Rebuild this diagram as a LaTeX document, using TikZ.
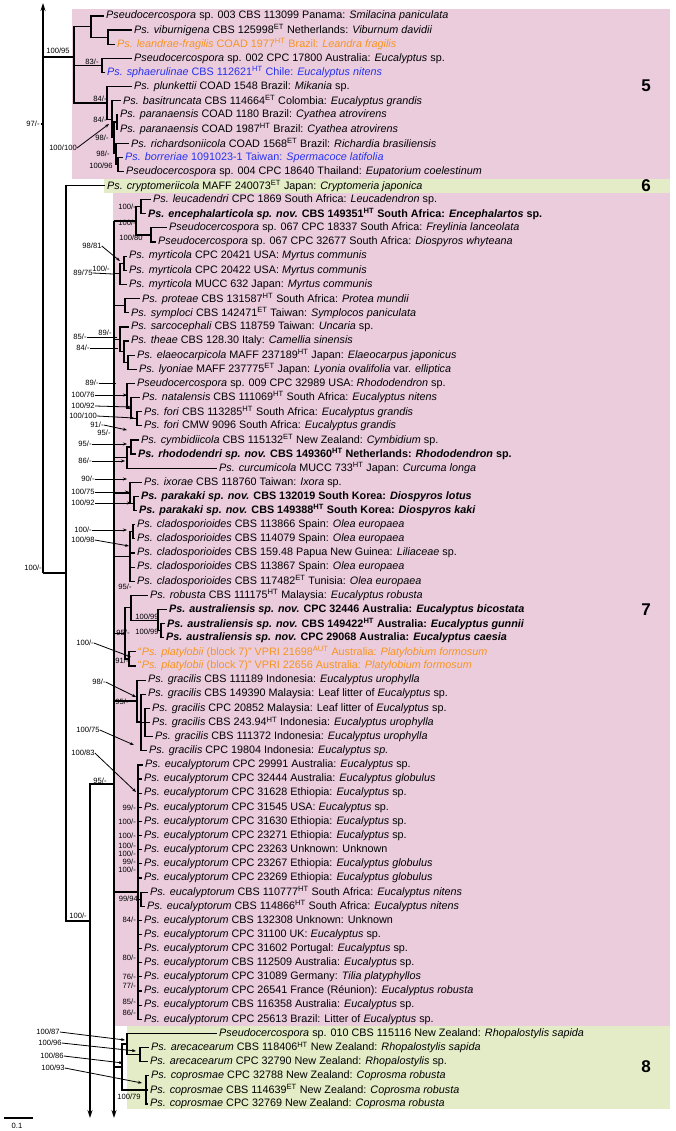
\documentclass[tikz,border=0pt]{standalone}
\usepackage{fontspec}
\setmainfont{Liberation Sans}
\usetikzlibrary{arrows.meta}
\definecolor{pinkbox}{RGB}{234,204,221}
\definecolor{greenbox}{RGB}{227,236,199}
\definecolor{orangetxt}{RGB}{247,148,30}
\definecolor{bluetxt}{RGB}{40,50,240}
\newcommand{\sHT}{\textsuperscript{HT}}
\newcommand{\sET}{\textsuperscript{ET}}
\newcommand{\sAUT}{\textsuperscript{AUT}}
\newcommand{\tipfont}{\fontsize{10.8}{12}\selectfont}
\newcommand{\supfont}{\fontsize{7.6}{8}\selectfont}
\newcommand{\Euc}{\textit{Ps. eucalyptorum}}
\newcommand{\Clad}{\textit{Ps. cladosporioides}}
\newcommand{\Grac}{\textit{Ps. gracilis}}

\begin{document}
\begin{tikzpicture}[x=1pt, y=-1pt,
    tip/.style={anchor=west, inner xsep=2.5pt, inner ysep=0pt, font=\tipfont},
    nov/.style={tip, font=\tipfont\bfseries},
    sv/.style={inner sep=0pt, font=\supfont},
    br/.style={line width=1.2pt},
    bb/.style={line width=2.6pt},
    ptr/.style={line width=0.8pt},
    arr/.style={ptr, -{Stealth[length=4pt,width=3pt]}},
    cladenum/.style={font=\fontsize{17}{17}\selectfont\bfseries}
]
    \useasboundingbox (0,0) rectangle (676,1131);
    \fill[white] (0,0) rectangle (676,1131);

    % clade boxes
    \fill[pinkbox] (72,9) rectangle (670,179);
    \fill[greenbox] (104,179) rectangle (670,193);
    \fill[pinkbox] (113,193) rectangle (670,1026);
    \fill[greenbox] (127,1026) rectangle (670,1109);
    \node[cladenum] (c5) at (646,86) {5};
    \node[cladenum] (c6) at (646,186) {6};
    \node[cladenum] (c7) at (646,610) {7};
    \node[cladenum] (c8) at (646,1067) {8};

    % tips, clade 5
    \node[tip] (t1) at (103.5,16.0) {\textit{Pseudocercospora} sp. 003 CBS 113099 Panama: \textit{Smilacina paniculata}};
    \node[tip] (t2) at (131.5,30.1) {\textit{Ps. viburnigena} CBS 125998\sET{} Netherlands: \textit{Viburnum davidii}};
    \node[tip, text=orangetxt] (t3) at (114.5,44.3) {\textit{Ps. leandrae-fragilis} COAD 1977\sHT{} Brazil: \textit{Leandra fragilis}};
    \node[tip] (t4) at (131.5,58.4) {\textit{Pseudocercospora} sp. 002 CPC 17800 Australia: \textit{Eucalyptus} sp.};
    \node[tip, text=bluetxt] (t5) at (104.5,72.5) {\textit{Ps. sphaerulinae} CBS 112621\sHT{} Chile: \textit{Eucalyptus nitens}};
    \node[tip] (t6) at (131.5,86.7) {\textit{Ps. plunkettii} COAD 1548 Brazil: \textit{Mikania} sp.};
    \node[tip] (t7) at (120.5,100.8) {\textit{Ps. basitruncata} CBS 114664\sET{} Colombia: \textit{Eucalyptus grandis}};
    \node[tip] (t8) at (117.5,114.9) {\textit{Ps. paranaensis} COAD 1180 Brazil: \textit{Cyathea atrovirens}};
    \node[tip] (t9) at (117.5,129.0) {\textit{Ps. paranaensis} COAD 1987\sHT{} Brazil: \textit{Cyathea atrovirens}};
    \node[tip] (t10) at (128.5,143.2) {\textit{Ps. richardsoniicola} COAD 1568\sET{} Brazil: \textit{Richardia brasiliensis}};
    \node[tip, text=bluetxt] (t11) at (122.5,157.3) {\textit{Ps. borreriae} 1091023-1 Taiwan: \textit{Spermacoce latifolia}};
    \node[tip] (t12) at (123.5,171.4) {\textit{Pseudocercospora} sp. 004 CPC 18640 Thailand: \textit{Eupatorium coelestinum}};
    % clade 6
    \node[tip] (t13) at (104.5,185.6) {\textit{Ps. cryptomeriicola} MAFF 240073\sET{} Japan: \textit{Cryptomeria japonica}};
    % clade 7
    \node[tip] (t14) at (150.5,199.7) {\textit{Ps. leucadendri} CPC 1869 South Africa: \textit{Leucadendron} sp.};
    \node[nov] (t15) at (145.5,213.8) {\textit{Ps. encephalarticola sp. nov.} CBS 149351\sHT{} South Africa: \textit{Encephalartos} sp.};
    \node[tip] (t16) at (166.5,227.9) {\textit{Pseudocercospora} sp. 067 CPC 18337 South Africa: \textit{Freylinia lanceolata}};
    \node[tip] (t17) at (155.5,242.1) {\textit{Pseudocercospora} sp. 067 CPC 32677 South Africa: \textit{Diospyros whyteana}};
    \node[tip] (t18) at (126.5,256.2) {\textit{Ps. myrticola} CPC 20421 USA: \textit{Myrtus communis}};
    \node[tip] (t19) at (126.5,270.3) {\textit{Ps. myrticola} CPC 20422 USA: \textit{Myrtus communis}};
    \node[tip] (t20) at (126.5,284.5) {\textit{Ps. myrticola} MUCC 632 Japan: \textit{Myrtus communis}};
    \node[tip] (t21) at (139.5,298.6) {\textit{Ps. proteae} CBS 131587\sHT{} South Africa: \textit{Protea mundii}};
    \node[tip] (t22) at (128.5,312.7) {\textit{Ps. symploci} CBS 142471\sET{} Taiwan: \textit{Symplocos paniculata}};
    \node[tip] (t23) at (128.5,326.9) {\textit{Ps. sarcocephali} CBS 118759 Taiwan: \textit{Uncaria} sp.};
    \node[tip] (t24) at (128.5,341.0) {\textit{Ps. theae} CBS 128.30 Italy: \textit{Camellia sinensis}};
    \node[tip] (t25) at (134.5,355.1) {\textit{Ps. elaeocarpicola} MAFF 237189\sHT{} Japan: \textit{Elaeocarpus japonicus}};
    \node[tip] (t26) at (136.5,369.2) {\textit{Ps. lyoniae} MAFF 237775\sET{} Japan: \textit{Lyonia ovalifolia} var. \textit{elliptica}};
    \node[tip] (t27) at (134.5,383.4) {\textit{Pseudocercospora} sp. 009 CPC 32989 USA: \textit{Rhododendron} sp.};
    \node[tip] (t28) at (139.5,397.5) {\textit{Ps. natalensis} CBS 111069\sHT{} South Africa: \textit{Eucalyptus nitens}};
    \node[tip] (t29) at (141.5,411.6) {\textit{Ps. fori} CBS 113285\sHT{} South Africa: \textit{Eucalyptus grandis}};
    \node[tip] (t30) at (141.5,425.8) {\textit{Ps. fori} CMW 9096 South Africa: \textit{Eucalyptus grandis}};
    \node[tip] (t31) at (138.5,439.9) {\textit{Ps. cymbidiicola} CBS 115132\sET{} New Zealand: \textit{Cymbidium} sp.};
    \node[nov] (t32) at (135.5,454.0) {\textit{Ps. rhododendri sp. nov.} CBS 149360\sHT{} Netherlands: \textit{Rhododendron} sp.};
    \node[tip] (t33) at (216.5,468.2) {\textit{Ps. curcumicola} MUCC 733\sHT{} Japan: \textit{Curcuma longa}};
    \node[tip] (t34) at (141.5,482.3) {\textit{Ps. ixorae} CBS 118760 Taiwan: \textit{Ixora} sp.};
    \node[nov] (t35) at (138.5,496.4) {\textit{Ps. parakaki sp. nov.} CBS 132019 South Korea: \textit{Diospyros lotus}};
    \node[nov] (t36) at (136.5,510.5) {\textit{Ps. parakaki sp. nov.} CBS 149388\sHT{} South Korea: \textit{Diospyros kaki}};
    \node[tip] (t37) at (134.5,524.7) {\Clad{} CBS 113866 Spain: \textit{Olea europaea}};
    \node[tip] (t38) at (134.5,538.8) {\Clad{} CBS 114079 Spain: \textit{Olea europaea}};
    \node[tip] (t39) at (134.5,552.9) {\Clad{} CBS 159.48 Papua New Guinea: \textit{Liliaceae} sp.};
    \node[tip] (t40) at (134.5,567.1) {\Clad{} CBS 113867 Spain: \textit{Olea europaea}};
    \node[tip] (t41) at (134.5,581.2) {\Clad{} CBS 117482\sET{} Tunisia: \textit{Olea europaea}};
    \node[tip] (t42) at (147.5,595.3) {\textit{Ps. robusta} CBS 111175\sHT{} Malaysia: \textit{Eucalyptus robusta}};
    \node[nov] (t43) at (166.5,609.5) {\textit{Ps. australiensis sp. nov.} CPC 32446 Australia: \textit{Eucalyptus bicostata}};
    \node[nov] (t44) at (164.5,623.6) {\textit{Ps. australiensis sp. nov.} CBS 149422\sHT{} Australia: \textit{Eucalyptus gunnii}};
    \node[nov] (t45) at (163.5,637.7) {\textit{Ps. australiensis sp. nov.} CPC 29068 Australia: \textit{Eucalyptus caesia}};
    \node[tip, text=orangetxt] (t46) at (135.5,651.8) {``\textit{Ps. platylobii} (block 7)'' VPRI 21698\sAUT{} Australia: \textit{Platylobium formosum}};
    \node[tip, text=orangetxt] (t47) at (135.5,666.0) {``\textit{Ps. platylobii} (block 7)'' VPRI 22656 Australia: \textit{Platylobium formosum}};
    \node[tip] (t48) at (145.5,680.1) {\Grac{} CBS 111189 Indonesia: \textit{Eucalyptus urophylla}};
    \node[tip] (t49) at (145.5,694.2) {\Grac{} CBS 149390 Malaysia: Leaf litter of \textit{Eucalyptus} sp.};
    \node[tip] (t50) at (149.5,708.4) {\Grac{} CPC 20852 Malaysia: Leaf litter of \textit{Eucalyptus} sp.};
    \node[tip] (t51) at (149.5,722.5) {\Grac{} CBS 243.94\sHT{} Indonesia: \textit{Eucalyptus urophylla}};
    \node[tip] (t52) at (152.5,736.6) {\Grac{} CBS 111372 Indonesia: \textit{Eucalyptus urophylla}};
    \node[tip] (t53) at (146.5,750.8) {\Grac{} CPC 19804 Indonesia: \textit{Eucalyptus sp.}};
    \node[tip] (t54) at (142.5,764.9) {\Euc{} CPC 29991 Australia: \textit{Eucalyptus} sp.};
    \node[tip] (t55) at (141.5,779.0) {\Euc{} CPC 32444 Australia: \textit{Eucalyptus globulus}};
    \node[tip] (t56) at (141.5,793.1) {\Euc{} CPC 31628 Ethiopia: \textit{Eucalyptus} sp.};
    \node[tip] (t57) at (141.5,807.3) {\Euc{} CPC 31545 USA: \textit{Eucalyptus} sp.};
    \node[tip] (t58) at (141.5,821.4) {\Euc{} CPC 31630 Ethiopia: \textit{Eucalyptus} sp.};
    \node[tip] (t59) at (141.5,835.5) {\Euc{} CPC 23271 Ethiopia: \textit{Eucalyptus} sp.};
    \node[tip] (t60) at (141.5,849.7) {\Euc{} CPC 23263 Unknown: Unknown};
    \node[tip] (t61) at (141.5,863.8) {\Euc{} CPC 23267 Ethiopia: \textit{Eucalyptus globulus}};
    \node[tip] (t62) at (141.5,877.9) {\Euc{} CPC 23269 Ethiopia: \textit{Eucalyptus globulus}};
    \node[tip] (t63) at (147.5,892.1) {\Euc{} CBS 110777\sHT{} South Africa: \textit{Eucalyptus nitens}};
    \node[tip] (t64) at (144.5,906.2) {\Euc{} CBS 114866\sHT{} South Africa: \textit{Eucalyptus nitens}};
    \node[tip] (t65) at (141.5,920.3) {\Euc{} CBS 132308 Unknown: Unknown};
    \node[tip] (t66) at (141.5,934.4) {\Euc{} CPC 31100 UK: \textit{Eucalyptus} sp.};
    \node[tip] (t67) at (141.5,948.6) {\Euc{} CPC 31602 Portugal: \textit{Eucalyptus} sp.};
    \node[tip] (t68) at (141.5,962.7) {\Euc{} CBS 112509 Australia: \textit{Eucalyptus} sp.};
    \node[tip] (t69) at (141.5,976.8) {\Euc{} CPC 31089 Germany: \textit{Tilia platyphyllos}};
    \node[tip] (t70) at (141.5,991.0) {\Euc{} CPC 26541 France (Réunion): \textit{Eucalyptus robusta}};
    \node[tip] (t71) at (141.5,1005.1) {\Euc{} CBS 116358 Australia: \textit{Eucalyptus} sp.};
    \node[tip] (t72) at (141.5,1019.2) {\Euc{} CPC 25613 Brazil: Litter of \textit{Eucalyptus} sp.};
    % clade 8
    \node[tip] (t73) at (216.5,1033.4) {\textit{Pseudocercospora} sp. 010 CBS 115116 New Zealand: \textit{Rhopalostylis sapida}};
    \node[tip] (t74) at (148.5,1047.5) {\textit{Ps. arecacearum} CBS 118406\sHT{} New Zealand: \textit{Rhopalostylis sapida}};
    \node[tip] (t75) at (147.5,1061.6) {\textit{Ps. arecacearum} CPC 32790 New Zealand: \textit{Rhopalostylis} sp.};
    \node[tip] (t76) at (148.5,1075.8) {\textit{Ps. coprosmae} CPC 32788 New Zealand: \textit{Coprosma robusta}};
    \node[tip] (t77) at (147.5,1089.9) {\textit{Ps. coprosmae} CBS 114639\sET{} New Zealand: \textit{Coprosma robusta}};
    \node[tip] (t78) at (147.5,1104.0) {\textit{Ps. coprosmae} CPC 32769 New Zealand: \textit{Coprosma robusta}};

    % inner nodes
    \coordinate (rtop) at (43,3);
    \coordinate (root) at (43,573);
    \coordinate (A) at (74,57);
    \coordinate (B) at (91,26.6);
    \coordinate (E) at (108,37.2);
    \coordinate (C) at (102,65.5);
    \coordinate (D) at (107,103);
    \coordinate (F) at (112,119.4);
    \coordinate (G) at (114,137.9);
    \coordinate (P) at (117,122);
    \coordinate (H) at (116,153.8);
    \coordinate (Q) at (118,164.4);
    \coordinate (S) at (66,573);
    \coordinate (T) at (90,921);
    \coordinate (Tend) at (90,1118);
    \coordinate (U) at (114,784);
    \coordinate (Utop) at (114,221);
    \coordinate (Uend) at (114,1118);
    \coordinate (K2) at (141,206.8);
    \coordinate (K3) at (151,235);
    \coordinate (K4) at (136,221);
    \coordinate (M1) at (124,263.3);
    \coordinate (M2) at (120,273.9);
    \coordinate (N21) at (125,305.6);
    \coordinate (P1) at (128,362.2);
    \coordinate (P2) at (124,351.6);
    \coordinate (P3) at (120,339.3);
    \coordinate (Q1) at (137,418.7);
    \coordinate (Q2) at (131,408.1);
    \coordinate (Q3) at (127,395.8);
    \coordinate (R1) at (131,447);
    \coordinate (R2) at (127,457.6);
    \coordinate (S1) at (134,503.5);
    \coordinate (S2) at (130,492.9);
    \coordinate (T1) at (133,531.8);
    \coordinate (T2) at (130,556.5);
    \coordinate (V2) at (161,630.7);
    \coordinate (V1) at (158,620.1);
    \coordinate (V3) at (131,607.7);
    \coordinate (W1) at (129,658.9);
    \coordinate (V4) at (125,633.3);
    \coordinate (X3) at (145,722.5);
    \coordinate (X2) at (141,722);
    \coordinate (X1) at (137,701);
    \coordinate (E2) at (141,899.1);
    \coordinate (E1) at (138,892);
    \coordinate (Y1) at (140,1054.6);
    \coordinate (Y3) at (146,1089.9);
    \coordinate (Y2) at (127,1044);
    \coordinate (Y4) at (122,1067);

    % branches
    \draw[br, -{Stealth[length=8pt,width=5pt]}] (root) -- (rtop);
    \draw[br] (root) |- (A) (root) -- (S);
    \draw[br] (A) |- (B) (A) |- (C) (A) |- (D);
    \draw[br] (B) |- (t1.west) (B) |- (E);
    \draw[br] (E) |- (t2.west) (E) |- (t3.west);
    \draw[br] (C) |- (t4.west) (C) |- (t5.west);
    \draw[br] (D) |- (t6.west) (D) |- (F);
    \draw[br] (F) |- (t7.west) (F) |- (G);
    \draw[br] (G) |- (P) (G) |- (H);
    \draw[br] (P) |- (t8.west) (P) |- (t9.west);
    \draw[br] (H) |- (t10.west) (H) |- (Q);
    \draw[br] (Q) |- (t11.west) (Q) |- (t12.west);
    \draw[br] (S) |- (t13.west) (S) |- (T);
    \draw[br] (T) |- (U);
    \draw[br, -{Stealth[length=8pt,width=5pt]}] (T) -- (Tend);
    \draw[br] (Utop) -- (M2 -| Utop);
    \draw[bb, -{Stealth[length=8pt,width=5pt]}] (M2 -| Utop) -- (Uend);
    \draw[br] (K4 -| Utop) -- (K4) (K4) |- (K2) (K4) |- (K3);
    \draw[br] (K2) |- (t14.west) (K2) |- (t15.west);
    \draw[br] (K3) |- (t16.west) (K3) |- (t17.west);
    \draw[br] (M2 -| Utop) -- (M2) (M2) |- (M1) (M2) |- (t20.west);
    \draw[br] (M1) |- (t18.west) (M1) |- (t19.west);
    \draw[br] (N21 -| Utop) -- (N21) (N21) |- (t21.west) (N21) |- (t22.west);
    \draw[br] (P3 -| Utop) -- (P3) (P3) |- (t23.west) (P3) |- (P2);
    \draw[br] (P2) |- (t24.west) (P2) |- (P1);
    \draw[br] (P1) |- (t25.west) (P1) |- (t26.west);
    \draw[br] (Q3 -| Utop) -- (Q3) (Q3) |- (t27.west) (Q3) |- (Q2);
    \draw[br] (Q2) |- (t28.west) (Q2) |- (Q1);
    \draw[br] (Q1) |- (t29.west) (Q1) |- (t30.west);
    \draw[br] (R2 -| Utop) -- (R2) (R2) |- (R1) (R2) |- (t33.west);
    \draw[br] (R1) |- (t31.west) (R1) |- (t32.west);
    \draw[br] (S2 -| Utop) -- (S2) (S2) |- (t34.west) (S2) |- (S1);
    \draw[br] (S1) |- (t35.west) (S1) |- (t36.west);
    \draw[br] (T2 -| Utop) -- (T2) (T2) |- (T1) (T2) |- (t39.west) (T2) |- (t40.west) (T2) |- (t41.west);
    \draw[br] (T1) |- (t37.west) (T1) |- (t38.west);
    \draw[br] (V4 -| Utop) -- (V4) (V4) |- (V3) (V4) |- (W1);
    \draw[br] (V3) |- (t42.west) (V3) |- (V1);
    \draw[br] (V1) |- (t43.west) (V1) |- (V2);
    \draw[br] (V2) |- (t44.west) (V2) |- (t45.west);
    \draw[br] (W1) |- (t46.west) (W1) |- (t47.west);
    \draw[br] (X1 -| Utop) -- (X1) (X1) |- (t48.west) (X1) |- (X2);
    \draw[br] (X2) |- (t49.west) (X2) |- (X3) (X2) |- (t53.west);
    \draw[br] (X3) |- (t50.west) (X3) |- (t51.west) (X3) |- (t52.west);
    \draw[br] (E1 -| Utop) -- (E1);
    \draw[br] (E1) |- (t54.west) (E1) |- (t55.west) (E1) |- (t56.west) (E1) |- (t57.west)
              (E1) |- (t58.west) (E1) |- (t59.west) (E1) |- (t60.west) (E1) |- (t61.west)
              (E1) |- (t62.west) (E1) |- (E2) (E1) |- (t65.west) (E1) |- (t66.west)
              (E1) |- (t67.west) (E1) |- (t68.west) (E1) |- (t69.west) (E1) |- (t70.west)
              (E1) |- (t71.west) (E1) |- (t72.west);
    \draw[br] (E2) |- (t63.west) (E2) |- (t64.west);
    \draw[br] (Y4 -| Utop) -- (Y4) (Y4) |- (Y2) (Y4) |- (Y3);
    \draw[br] (Y2) |- (t73.west) (Y2) |- (Y1);
    \draw[br] (Y1) |- (t74.west) (Y1) |- (t75.west);
    \draw[br] (Y3) |- (t76.west) (Y3) |- (t77.west) (Y3) |- (t78.west);

    % scale bar
    \coordinate (sb1) at (4,1118);
    \coordinate (sb2) at (33,1118);
    \draw[br] (sb1) -- (sb2);
    \node[sv] (sbl) at (17,1126) {0.1};

    % support values
    \node[sv] (v1) at (58,51) {100/95};
    \node[sv] (v2) at (33,124) {97/-};
    \draw[br] (v2.east) ++(1,0) -- (root |- v2);
    \node[sv] (v3) at (92,62) {83/-};
    \node[sv] (v4) at (100,99) {84/-};
    \node[sv] (v5) at (100,120) {84/-};
    \node[sv] (v6) at (63,148) {100/100};
    \node[sv] (v7) at (102,138) {98/-};
    \node[sv] (v8) at (103,154) {98/-};
    \node[sv] (v9) at (101,166) {100/96};
    \node[sv] (v10) at (33,568) {100/-};
    \node[sv] (v11) at (127,207) {100/-};
    \node[sv] (v12) at (127,223) {100/-};
    \node[sv] (v13) at (131,238) {100/80};
    \node[sv] (v14) at (92,246) {98/81};
    \node[sv] (v15) at (101,269) {100/-};
    \node[sv] (v16) at (83,273) {89/75};
    \node[sv] (v17) at (105,333) {89/-};
    \node[sv] (v18) at (80,337) {85/-};
    \node[sv] (v19) at (83,348) {84/-};
    \node[sv] (v20) at (92,383) {89/-};
    \node[sv] (v21) at (83,395) {100/76};
    \node[sv] (v22) at (83,406) {100/92};
    \node[sv] (v23) at (83,416) {100/100};
    \node[sv] (v24) at (97,425) {91/-};
    \node[sv] (v25) at (104,433) {95/-};
    \node[sv] (v26) at (85,444) {95/-};
    \node[sv] (v27) at (85,461) {86/-};
    \node[sv] (v28) at (88,479) {90/-};
    \node[sv] (v29) at (83,492) {100/75};
    \node[sv] (v30) at (83,503) {100/92};
    \node[sv] (v31) at (83,530) {100/-};
    \node[sv] (v32) at (83,540) {100/98};
    \node[sv] (v33) at (125,587) {95/-};
    \node[sv] (v34) at (147,617) {100/99};
    \node[sv] (v35) at (147,632) {100/99};
    \node[sv] (v36) at (123,633) {95/-};
    \node[sv] (v37) at (85,643) {100/-};
    \node[sv] (v38) at (122,661) {91/-};
    \node[sv] (v39) at (99,682) {98/-};
    \node[sv] (v40) at (122,702) {95/-};
    \node[sv] (v41) at (88,730) {100/75};
    \node[sv] (v42) at (83,753) {100/83};
    \node[sv] (v43) at (100,781) {95/-};
    \node[sv] (v44) at (78,916) {100/-};
    \node[sv, anchor=east] (v45) at (136,808) {99/-};
    \node[sv, anchor=east] (v46) at (136,822) {100/-};
    \node[sv, anchor=east] (v47) at (136,836) {100/-};
    \node[sv, anchor=east] (v48) at (136,846) {100/-};
    \node[sv, anchor=east] (v49) at (136,854) {100/-};
    \node[sv, anchor=east] (v50) at (136,862) {99/-};
    \node[sv, anchor=east] (v51) at (136,870) {100/-};
    \node[sv, anchor=east] (v52) at (138,899) {99/94};
    \node[sv, anchor=east] (v53) at (136,920) {84/-};
    \node[sv, anchor=east] (v54) at (136,958) {80/-};
    \node[sv, anchor=east] (v55) at (136,977) {76/-};
    \node[sv, anchor=east] (v56) at (136,986) {77/-};
    \node[sv, anchor=east] (v57) at (136,1002) {85/-};
    \node[sv, anchor=east] (v58) at (136,1013) {86/-};
    \node[sv] (v59) at (48,1032) {100/87};
    \node[sv] (v60) at (50,1043) {100/96};
    \node[sv] (v61) at (52,1056) {100/86};
    \node[sv] (v62) at (53,1068) {100/93};
    \node[sv] (v63) at (129,1097) {100/79};

    % pointer ends
    \coordinate (a6) at (109,124);
    \coordinate (a14) at (120,261);
    \coordinate (a16) at (113,274);
    \coordinate (a18) at (117,337);
    \coordinate (a19) at (118,348);
    \coordinate (a20) at (116,383);
    \coordinate (a21) at (127,395);
    \coordinate (a22) at (131,407);
    \coordinate (a23) at (134,418);
    \coordinate (a24) at (127,430);
    \coordinate (a26) at (127,444);
    \coordinate (a27) at (125,461);
    \coordinate (a28) at (127,479);
    \coordinate (a29) at (129,492);
    \coordinate (a30) at (131,503);
    \coordinate (a31) at (127,530);
    \coordinate (a32) at (129,546);
    \coordinate (a37) at (131,657);
    \coordinate (a39) at (136,697);
    \coordinate (a41) at (134,745);
    \coordinate (a42) at (136,792);
    \coordinate (a59) at (125,1040);
    \coordinate (a60) at (136,1051);
    \coordinate (a61) at (123,1063);
    \coordinate (a62) at (142,1083);

    \draw[arr] (v6.east) -- (a6);
    \draw[arr] (v14.east) -- (a14);
    \draw[ptr] (v16.east) -- (a16);
    \draw[ptr] (v18.east) -- (a18);
    \draw[ptr] (v19.east) -- (a19);
    \draw[ptr] (v20.east) -- (a20);
    \draw[arr] (v21.east) -- (a21);
    \draw[arr] (v22.east) -- (a22);
    \draw[arr] (v23.east) -- (a23);
    \draw[arr] (v24.east) -- (a24);
    \draw[arr] (v26.east) -- (a26);
    \draw[arr] (v27.east) -- (a27);
    \draw[arr] (v28.east) -- (a28);
    \draw[arr] (v29.east) -- (a29);
    \draw[arr] (v30.east) -- (a30);
    \draw[arr] (v31.east) -- (a31);
    \draw[arr] (v32.east) -- (a32);
    \draw[arr] (v37.east) -- (a37);
    \draw[arr] (v39.east) -- (a39);
    \draw[arr] (v41.east) -- (a41);
    \draw[arr] (v42.east) -- (a42);
    \draw[arr] (v59.east) -- (a59);
    \draw[arr] (v60.east) -- (a60);
    \draw[arr] (v61.east) -- (a61);
    \draw[arr] (v62.east) -- (a62);
\end{tikzpicture}
\end{document}
